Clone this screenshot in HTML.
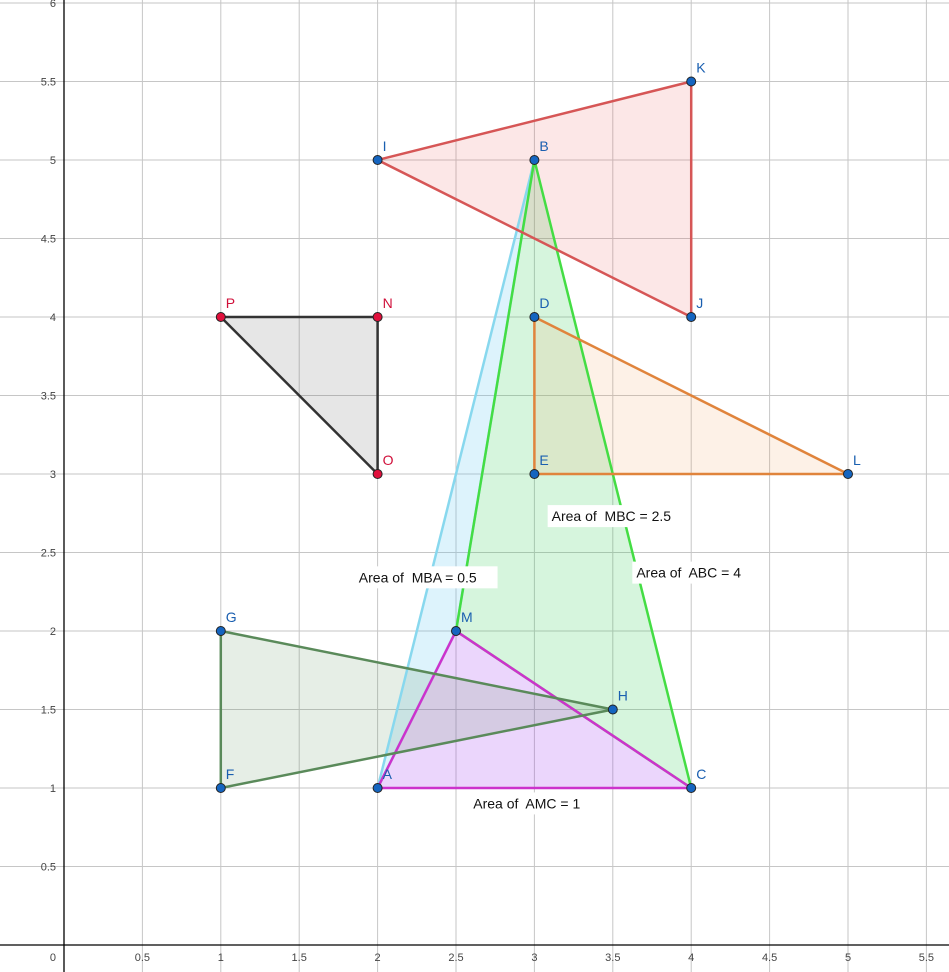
<!DOCTYPE html>
<html><head><meta charset="utf-8"><style>
html,body{margin:0;padding:0;background:#fff}
svg{display:block;font-family:"Liberation Sans",sans-serif}
</style></head><body>
<svg id="chart" width="949" height="972" viewBox="0 0 949 972" xmlns="http://www.w3.org/2000/svg">
<g id="grid"></g>
<g id="axes"></g>
<g id="fills"></g>
<g id="polys"></g>
<g id="areas"></g>
<g id="pts"></g>
</svg>
<script>
const xTicks = [0.5,1,1.5,2,2.5,3,3.5,4,4.5,5,5.5];
const yTicks = [0.5,1,1.5,2,2.5,3,3.5,4,4.5,5,5.5,6];
const pointNames = ["A","B","C","M","D","E","L","I","K","J","P","N","O","G","F","H"];
const pointX = [2,3,4,2.5,3,3,5,2,4,4,1,2,2,1,1,3.5];
const pointY = [1,5,1,2,4,3,3,5,5.5,4,4,4,3,2,1,1.5];
const redPoints = ["P","N","O"];
const triangles = [["M","B","A"],["M","B","C"],["A","M","C"],["I","K","J"],["D","E","L"],["P","N","O"],["G","F","H"]];
const triFill = ["#66c8f0","#33cc55","#9933ee","#e86060","#f0a060","#555555","#5a8a5a"];
const triOpacity = [0.22,0.2,0.2,0.15,0.15,0.15,0.15];
const triStroke = ["#88d8ee","#44dd44","#cc33cc","#d65656","#e0843c","#333333","#5a8a5a"];
const areaTexts = ["Area of  MBC = 2.5","Area of  MBA = 0.5","Area of  ABC = 4","Area of  AMC = 1"];
const areaX = [3.11,1.88,3.65,2.61];
const areaY = [2.70,2.31,2.34,0.87];

const NS="http://www.w3.org/2000/svg";
const sx=v=>64+156.8*v, sy=v=>945-157*v;
function mk(tag,attrs,parent){const e=document.createElementNS(NS,tag);for(const k in attrs)e.setAttribute(k,attrs[k]);parent.appendChild(e);return e;}
const grid=document.getElementById('grid'),axes=document.getElementById('axes'),fills=document.getElementById('fills'),polys=document.getElementById('polys'),areas=document.getElementById('areas'),pts=document.getElementById('pts');
xTicks.forEach(t=>{
 const l=mk('line',{x1:sx(t),x2:sx(t),y1:0,y2:972,stroke:'#c6c6c6','stroke-width':1},grid);
 
 
 const tx=mk('text',{x:sx(t),y:961,'font-size':11,fill:'#444','text-anchor':'middle'},axes);tx.textContent=t;
 
 
});
yTicks.forEach(t=>{
 const l=mk('line',{x1:0,x2:949,y1:sy(t),y2:sy(t),stroke:'#c6c6c6','stroke-width':1},grid);
 
 
 const tx=mk('text',{x:56,y:sy(t)+4,'font-size':11,fill:'#444','text-anchor':'end'},axes);tx.textContent=t;
 
 
});
const xa=mk('line',{x1:0,x2:949,y1:sy(0),y2:sy(0),stroke:'#000','stroke-width':1.3},axes);


const ya=mk('line',{x1:sx(0),x2:sx(0),y1:0,y2:972,stroke:'#000','stroke-width':1.3},axes);


const z=mk('text',{x:56,y:961,'font-size':11,fill:'#444','text-anchor':'end'},axes);z.textContent='0';


const idx=n=>pointNames.indexOf(n);
triangles.forEach((tr,i)=>{
 const p=tr.map(n=>sx(pointX[idx(n)])+','+sy(pointY[idx(n)])).join(' ');
 const f=mk('polygon',{points:p,fill:triFill[i],'fill-opacity':triOpacity[i],stroke:'none'},fills);
 
 
});
triangles.forEach((tr,i)=>{
 const p=tr.map(n=>sx(pointX[idx(n)])+','+sy(pointY[idx(n)])).join(' ');
 const g=mk('polygon',{points:p,fill:'none',stroke:triStroke[i],'stroke-width':2.5,'stroke-linejoin':'round'},polys);
 
 
});
areaTexts.forEach((t,i)=>{
 const w=t.length*7.6+6;
 const r=mk('rect',{x:sx(areaX[i])-4,y:sy(areaY[i])-16,width:w,height:22,fill:'#fff'},areas);
 
 
 const tx=mk('text',{x:sx(areaX[i]),y:sy(areaY[i]),'font-size':14,fill:'#111','xml:space':'preserve'},areas);
 tx.style.whiteSpace='pre';
 tx.textContent=t;
 
 
});
pointNames.forEach((n,i)=>{
 const red=redPoints.includes(n);
 const c=mk('circle',{cx:sx(pointX[i]),cy:sy(pointY[i]),r:4.5,fill:red?'#e0103c':'#1565c0',stroke:'#222','stroke-width':1},pts);
 
 
 const tx=mk('text',{x:sx(pointX[i])+5,y:sy(pointY[i])-9,'font-size':14,fill:red?'#d0103a':'#1a5fb0'},pts);tx.textContent=n;
 
 
});
</script>
</body></html>
